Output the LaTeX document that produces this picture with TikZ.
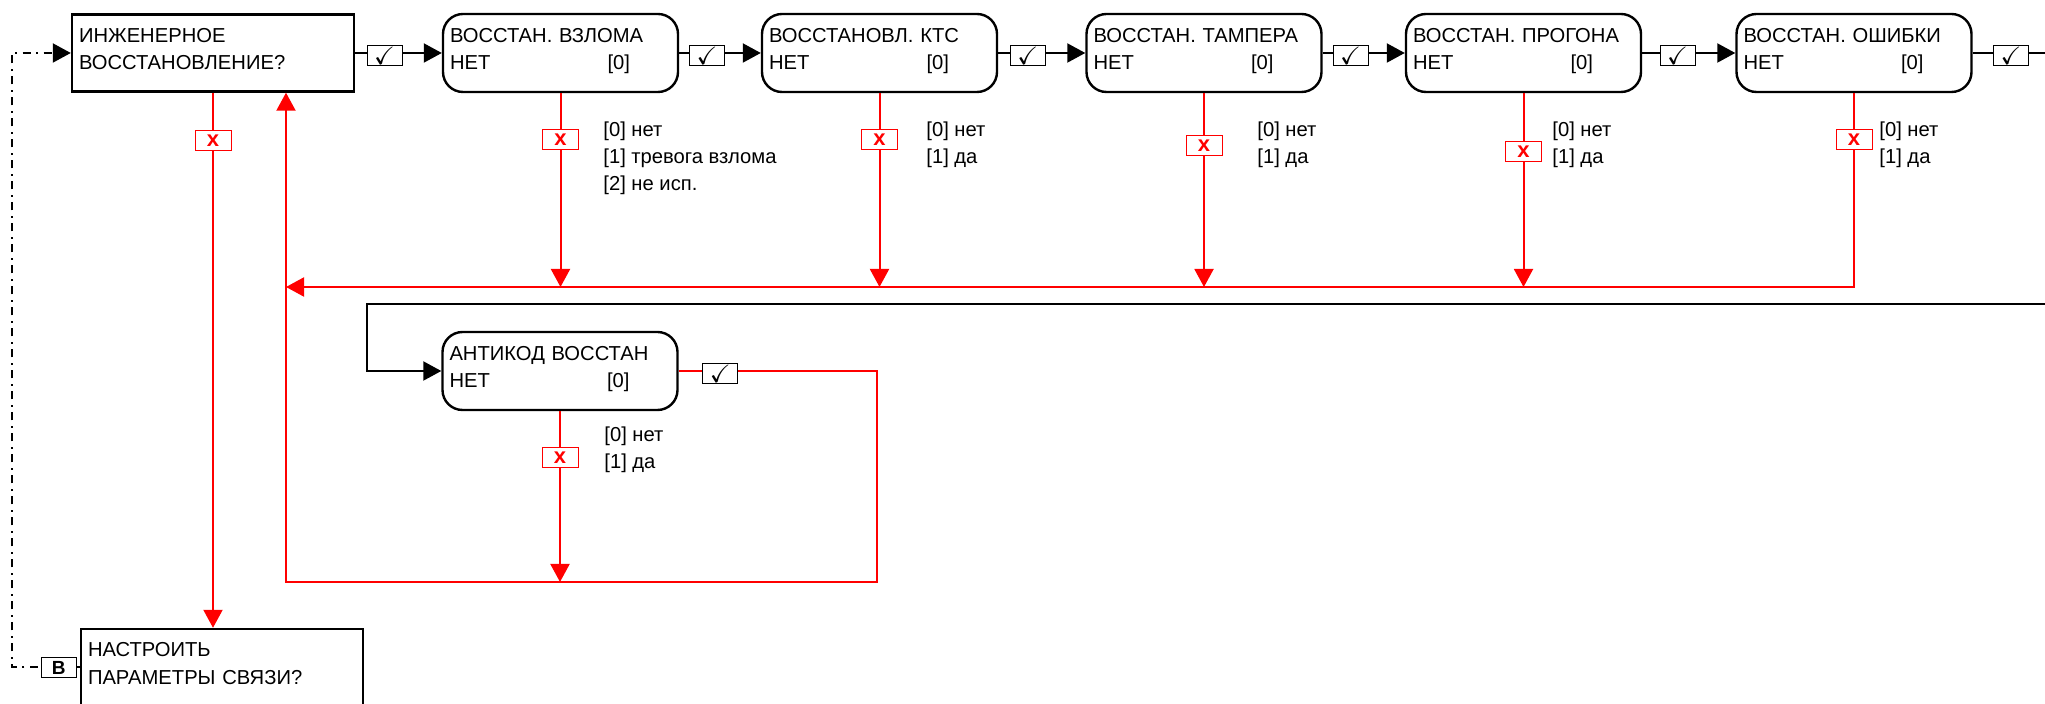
\documentclass[tikz,border=0pt]{standalone}
\usepackage{amssymb}
\usepackage{fontspec}
\setmainfont{Liberation Sans}
\usetikzlibrary{arrows.meta}
\newcommand{\netz}[1]{#1\\\makebox[90pt][l]{НЕТ\hfill[0]}}

\begin{document}
\begin{tikzpicture}[x=0.5pt,y=0.5pt,>={Triangle[length=9pt,width=9.5pt]},
  txt/.style={font=\fontsize{10.1}{13.7}\selectfont},
  ask/.style={txt,draw,line width=1.2pt,align=left,inner xsep=3.5pt,inner ysep=0pt,
    text width=134pt,minimum height=38.5pt,execute at end node=\strut},
  prm/.style={ask,rounded corners=10pt,text width=110.5pt,minimum height=39pt},
  lab/.style={txt,align=left,inner sep=0pt,anchor=north west},
  ok/.style={draw=black,text=black,solid,line width=0.5pt,fill=white,minimum width=17.5pt,
    minimum height=9.8pt,inner sep=0pt,yshift=-1.2pt,pos=.34,
    font=\fontsize{12.5}{12.5}\selectfont},
  nok/.style={draw=red,text=red,line width=0.5pt,fill=white,minimum width=18pt,
    minimum height=10pt,inner sep=0pt,font=\fontsize{11}{11}\selectfont\bfseries,pos=.24},
  keyb/.style={draw=black,solid,line width=0.5pt,fill=white,minimum width=17.5pt,
    minimum height=10pt,inner sep=0pt,font=\fontsize{9.5}{9.5}\selectfont\bfseries},
  ln/.style={line width=1pt},
  rl/.style={red,line width=1pt},
  dd/.style={line width=1pt,dash pattern=on 4pt off 2.75pt on 1pt off 2.75pt}]
\useasboundingbox (0,0) rectangle (2045,-704);
% question boxes
\node[ask] (eng) at (213,-53) {ИНЖЕНЕРНОЕ\\ВОССТАНОВЛЕНИЕ?};
\node[ask] (com) at (222,-667.5) {НАСТРОИТЬ\\ПАРАМЕТРЫ СВЯЗИ?};
% parameter boxes
\node[prm] (vzl) at (560.5,-53) {\netz{ВОССТАН. ВЗЛОМА}};
\node[prm] (kts) at (879.5,-53) {\netz{ВОССТАНОВЛ. КТС}};
\node[prm] (tmp) at (1204,-53) {\netz{ВОССТАН. ТАМПЕРА}};
\node[prm] (prg) at (1523.5,-53) {\netz{ВОССТАН. ПРОГОНА}};
\node[prm] (err) at (1854,-53) {\netz{ВОССТАН. ОШИБКИ}};
\node[prm] (akd) at (560,-371) {\netz{АНТИКОД ВОССТАН}};
% value lists
\node[lab] (vzlv) at (603,-121) {[0] нет\\{}[1] тревога взлома\\{}[2] не исп.};
\node[lab] (ktsv) at (926,-121) {[0] нет\\{}[1] да};
\node[lab] (tmpv) at (1257,-121) {[0] нет\\{}[1] да};
\node[lab] (prgv) at (1552,-121) {[0] нет\\{}[1] да};
\node[lab] (errv) at (1879,-121) {[0] нет\\{}[1] да};
\node[lab] (akdv) at (604,-426) {[0] нет\\{}[1] да};
\coordinate (outR) at (2045,-53);
\coordinate (inR) at (2045,-304);
\coordinate (bus) at (0,-287);
\coordinate (low) at (0,-582);
% confirm chain
\draw[ln,->] (eng) -- node[ok]{$\checkmark$} (vzl);
\draw[ln,->] (vzl) -- node[ok]{$\checkmark$} (kts);
\draw[ln,->] (kts) -- node[ok]{$\checkmark$} (tmp);
\draw[ln,->] (tmp) -- node[ok]{$\checkmark$} (prg);
\draw[ln,->] (prg) -- node[ok,pos=.38]{$\checkmark$} (err);
\draw[ln] (err) -- node[ok,pos=.53]{$\checkmark$} (outR);
\draw[ln,->] (inR) -| (367,0 |- akd.west) -- (akd.west);
% cancel paths
\draw[rl,->] (eng.south) -- node[nok,pos=.09]{x} (eng.south |- com.north);
\draw[rl,->] (vzl.south) -- node[nok]{x} (vzl.south |- bus);
\draw[rl,->] (kts.south) -- node[nok]{x} (kts.south |- bus);
\draw[rl,->] (tmp.south) -- node[nok,pos=.27]{x} (tmp.south |- bus);
\draw[rl,->] (prg.south) -- node[nok,pos=.3]{x} (prg.south |- bus);
\draw[rl,->] (err.south) -- node[nok]{x} (err.south |- bus) -- (286,0 |- bus);
\draw[rl,->] (akd.south) -- node[nok,pos=.27]{x} (akd.south |- low);
\draw[rl,->] (akd.east) -- node[ok,pos=.21]{$\checkmark$} ++(198,0) |- (286,0 |- low)
  -- (286,0 |- eng.south);
% back to start
\draw[dd,->] (com.west) -- node[keyb,pos=.31]{B} (12,0 |- com.west) |- (eng.west);
\end{tikzpicture}
\end{document}
